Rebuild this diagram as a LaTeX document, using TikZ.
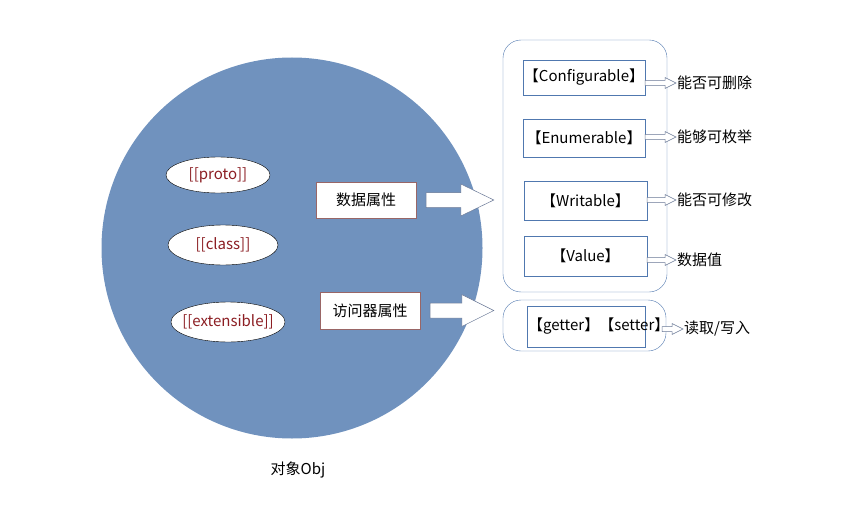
\documentclass[tikz,border=0pt]{standalone}
\usepackage{fontspec}
\setmainfont{Noto Sans CJK SC}
\usepackage{tikz}
\usetikzlibrary{calc,positioning,shapes.geometric}
\definecolor{objblue}{RGB}{112,146,190}
\definecolor{propred}{RGB}{140,30,35}
\definecolor{boxline}{RGB}{80,120,175}
\definecolor{arrline}{RGB}{105,120,150}
\tikzset{
	x=1pt, y=-1pt,
	every node/.style={font=\fontsize{15}{17}\selectfont},
	slot/.style={draw=black, fill=white, ellipse, inner sep=0pt, text=propred},
	kind/.style={draw=gray!80!red, fill=white, inner sep=0pt},
	attr/.style={draw=boxline, fill=white, inner sep=0pt},
	group/.style={draw=boxline, rounded corners=18pt, inner sep=0pt},
	note/.style={anchor=west, inner sep=1pt},
	arrbody/.style={draw=arrline, fill=white, line width=0.5pt},
}
% hollow block arrow: from, to, shaft half, head half, head length
\newcommand{\blockarr}[5]{%
	\draw[arrbody] let \p1=(#1), \p2=(#2) in
	(\x1,\y1+#3) -- (\x2-#5,\y1+#3) -- (\x2-#5,\y1+#4) -- (\x2,\y1)
	-- (\x2-#5,\y1-#4) -- (\x2-#5,\y1-#3) -- (\x1,\y1-#3) -- cycle;}

\begin{document}
\begin{tikzpicture}
	\useasboundingbox (0,0) rectangle (842,505);

	% object
	\node[circle, fill=objblue, minimum size=381pt, inner sep=0pt] (obj) at (292,248) {};
	\node (objname) at (298,470) {对象Obj};

	\node[slot, minimum width=104pt, minimum height=36pt] (proto) at (218,175) {\makebox[0pt]{[[proto]]}};
	\node[slot, minimum width=110pt, minimum height=40pt] (class) at (223,245) {\makebox[0pt]{[[class]]}};
	\node[slot, minimum width=114pt, minimum height=40pt] (ext) at (228,322) {\makebox[0pt]{[[extensible]]}};

	\node[kind, minimum width=100pt, minimum height=36pt] (data) at (366,200) {数据属性};
	\node[kind, minimum width=100pt, minimum height=37pt] (acc) at (370,310.5) {访问器属性};

	% attribute groups
	\node[group, minimum width=164pt, minimum height=252pt] (dgroup) at (585,166) {};
	\node[group, minimum width=163pt, minimum height=51pt] (agroup) at (584.5,325.5) {};

	\node[attr, minimum width=122pt, minimum height=35pt] (conf) at (584,77.5) {【Configurable】};
	\node[attr, minimum width=122pt, minimum height=38pt] (enum) at (584,138) {【Enumerable】};
	\node[attr, minimum width=123pt, minimum height=39pt] (writ) at (585.5,200.5) {【Writable】};
	\node[attr, minimum width=123pt, minimum height=40pt] (val) at (585.5,256) {【Value】};
	\node[attr, minimum width=118pt, minimum height=41pt] (gs) at (586,326.5)
		{\makebox[116pt][l]{【getter】【setter】}};

	\node[note] (confnote) at (676,83) {能否可删除};
	\node[note] (enumnote) at (676,137) {能够可枚举};
	\node[note] (writnote) at (676,200) {能否可修改};
	\node[note] (valnote) at (676,260) {数据值};
	\node[note] (gsnote) at (683,329) {读取/写入};

	% arrows
	\coordinate (dtip) at (dgroup.west |- data.east);
	\coordinate (atip) at (agroup.west |- acc.east);
	\blockarr{[xshift=10pt]data.east}{[xshift=-9pt]dtip}{7.5pt}{16pt}{33pt}
	\blockarr{[xshift=10pt]acc.east}{[xshift=-9pt]atip}{7.5pt}{16pt}{32pt}

	\blockarr{conf.east |- confnote.west}{confnote.west}{2.5pt}{5.5pt}{11pt}
	\blockarr{enum.east |- enumnote.west}{enumnote.west}{2.5pt}{5.5pt}{11pt}
	\blockarr{writ.east |- writnote.west}{writnote.west}{2.5pt}{5.5pt}{11pt}
	\blockarr{val.east |- valnote.west}{valnote.west}{2.5pt}{5.5pt}{11pt}
	\blockarr{[xshift=17pt]gs.east |- gsnote.west}{gsnote.west}{2.5pt}{5.5pt}{11pt}
\end{tikzpicture}
\end{document}
